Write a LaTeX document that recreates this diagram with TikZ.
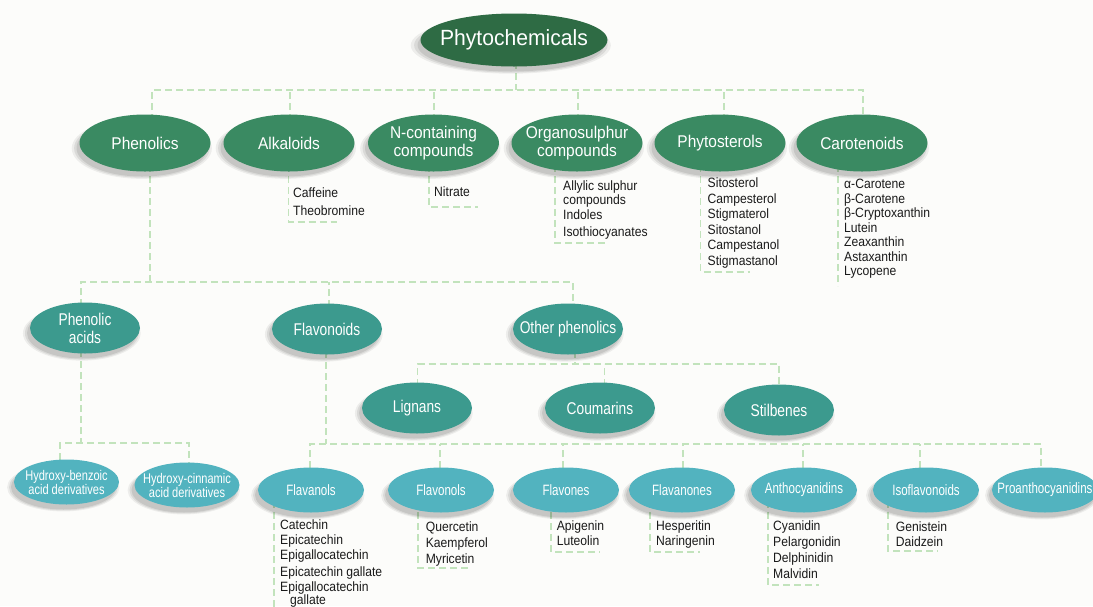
\documentclass[tikz,border=0pt]{standalone}
\usepackage{fontspec}
\setmainfont{Liberation Sans}
\newfontfamily\fontRoot[FakeStretch=0.96]{Liberation Sans}
\newfontfamily\fontLvA[FakeStretch=0.91]{Liberation Sans}
\newfontfamily\fontLvB[FakeStretch=0.81]{Liberation Sans}
\newfontfamily\fontLvC[FakeStretch=0.77]{Liberation Sans}
\newfontfamily\fontLvH[FakeStretch=0.79]{Liberation Sans}
\newfontfamily\fontLeaf[FakeStretch=0.9]{Liberation Sans}
\usetikzlibrary{shapes.geometric,shadows,calc}
\pgfdeclarelayer{back}
\pgfdeclarelayer{lines}
\pgfsetlayers{back,lines,main}
\definecolor{bgc}{HTML}{FCFCFA}
\definecolor{c0}{HTML}{2E6B44}
\definecolor{c1}{HTML}{3A8A62}
\definecolor{c2}{HTML}{3C9A8E}
\definecolor{c3}{HTML}{52B3BF}
\definecolor{lc}{HTML}{C2E3BC}
\definecolor{tx}{HTML}{1A1A1A}
\tikzset{
 ell/.style={ellipse, inner xsep=-80pt, inner ysep=0pt, text=white, align=center,
   general shadow={shadow scale=1.07, shadow xshift=-3pt, shadow yshift=-5pt, fill=black, opacity=0.06},
   general shadow={shadow scale=1.035, shadow xshift=-3pt, shadow yshift=-5pt, fill=black, opacity=0.08},
   general shadow={shadow scale=1.0, shadow xshift=-3pt, shadow yshift=-5pt, fill=black, opacity=0.09}},
 root/.style={ell, fill=c0, minimum width=187pt, minimum height=53pt, font=\fontRoot\fontsize{22}{24}\selectfont},
 lvA/.style={ell, fill=c1, minimum width=131pt, minimum height=57pt, font=\fontLvA\fontsize{17}{18}\selectfont},
 lvB/.style={ell, fill=c2, minimum width=110pt, minimum height=51pt, font=\fontLvB\fontsize{17}{18}\selectfont},
 lvC/.style={ell, fill=c3, minimum width=106pt, minimum height=45pt, font=\fontLvC\fontsize{15}{16}\selectfont},
 lvH/.style={ell, fill=c3, minimum width=105pt, minimum height=45pt, font=\fontLvH\fontsize{14}{14}\selectfont},
 conn/.style={draw=lc, line width=1.1pt, dash pattern=on 7pt off 4pt},
 leaf/.style={anchor=base west, inner sep=0pt, text=tx, font=\fontLeaf\fontsize{13.5}{15.5}\selectfont},
}
\newcommand{\lst}[1]{\begin{tabular}[t]{@{}l@{}}#1\end{tabular}}
\begin{document}
\begin{tikzpicture}[x=1pt,y=-1pt]
\begin{pgfonlayer}{back}
\fill[bgc] (0,0) rectangle (1093,606);
\end{pgfonlayer}
\useasboundingbox (0,0) rectangle (1093,606);

% ---- nodes
\node[root] (phyto) at (514,40) {Phytochemicals};

\node[lvA] (phen)   at (145,143) {Phenolics};
\node[lvA] (alk)    at (289,143) {Alkaloids};
\node[lvA] (ncont)  at (433.5,143) {N-containing\\compounds};
\node[lvA] (org)    at (577,143) {Organosulphur\\compounds};
\node[lvA] (sterol) at (720,143) {Phytosterols};
\node[lvA] (caro)   at (862,143) {Carotenoids};

\node[lvB] (phacid) at (85,328) {Phenolic\\acids};
\node[lvB] (flav)   at (327,329) {Flavonoids};
\node[lvB] (other)  at (568,329) {Other phenolics};

\node[lvB] (lign) at (417,408) {Lignans};
\node[lvB] (coum) at (600,408) {Coumarins};
\node[lvB] (stil) at (779,410) {Stilbenes};

\node[lvH] (hb) at (66.5,482) {Hydroxy-benzoic\\acid derivatives};
\node[lvH] (hc) at (187,485) {Hydroxy-cinnamic\\acid derivatives};

\node[lvC] (fl1) at (311,490) {Flavanols};
\node[lvC] (fl2) at (441,490) {Flavonols};
\node[lvC] (fl3) at (566,490) {Flavones};
\node[lvC] (fl4) at (682,490) {Flavanones};
\node[lvC] (fl5) at (804,490) {Anthocyanidins};
\node[lvC] (fl6) at (926,490) {Isoflavonoids};
\node[lvC] (fl7) at (1045,490) {Proanthocyanidins};

% ---- leaf lists
\node[leaf] (lalk) at (293,197.5) {\lst{Caffeine\\[2.5pt]Theobromine}};
\node[leaf] (lnc)  at (434,196.5) {\lst{Nitrate}};
\node[leaf] (lorg) at (563,190.5) {\lst{Allylic sulphur\\[-1.5pt]compounds\\[-0.5pt]Indoles\\[1.5pt]Isothiocyanates}};
\node[leaf] (lst)  at (707.5,187.5) {\lst{Sitosterol\\Campesterol\\Stigmaterol\\Sitostanol\\Campestanol\\Stigmastanol}};
\node[leaf] (lcar) at (844,188.5) {\lst{α-Carotene\\[-1pt]β-Carotene\\[-1pt]β-Cryptoxanthin\\[-1pt]Lutein\\[-1pt]Zeaxanthin\\[-1pt]Astaxanthin\\[-1pt]Lycopene}};

\node[leaf] (lf1) at (280,529.5) {\lst{Catechin\\[-0.5pt]Epicatechin\\[-0.5pt]Epigallocatechin\\[1pt]Epicatechin gallate\\[-0.5pt]Epigallocatechin\\[-2.5pt]\hspace{10pt}gallate}};
\node[leaf] (lf2) at (425.6,531.5) {\lst{Quercetin\\[0.5pt]Kaempferol\\[0.5pt]Myricetin}};
\node[leaf] (lf3) at (556.6,530.5) {\lst{Apigenin\\[-0.5pt]Luteolin}};
\node[leaf] (lf4) at (656,530.5) {\lst{Hesperitin\\[-0.5pt]Naringenin}};
\node[leaf] (lf5) at (773,530.5) {\lst{Cyanidin\\[0.5pt]Pelargonidin\\[0.5pt]Delphinidin\\[0.5pt]Malvidin}};
\node[leaf] (lf6) at (895.6,531.5) {\lst{Genistein\\[-0.5pt]Daidzein}};

% ---- connectors
\coordinate (b1) at (0,90);
\coordinate (b2) at (0,282);
\coordinate (b3) at (0,443);
\coordinate (b4) at (0,364);
\coordinate (b5) at (0,444);
\begin{pgfonlayer}{lines}
% top level
\draw[conn] ([xshift=2]phyto.center) -- ([xshift=2]phyto.center |- b1);
\draw[conn] ([xshift=7]phen.center) |- ([xshift=1]caro.center |- b1) -- ([xshift=1]caro.center);
\draw[conn] ([xshift=1]alk.center) -- ([xshift=1]alk.center |- b1);
\draw[conn] ([xshift=0.5]ncont.center) -- ([xshift=0.5]ncont.center |- b1);
\draw[conn] ([xshift=1]org.center) -- ([xshift=1]org.center |- b1);
\draw[conn] ([xshift=4]sterol.center) -- ([xshift=4]sterol.center |- b1);
% leaf brackets top
\draw[conn] ([xshift=-0.5]alk.center) |- (337,222);
\draw[conn] ([xshift=-4.5]ncont.center) |- (478,207);
\draw[conn] ([xshift=-22]org.center) |- (605,243);
\draw[conn] ([xshift=-19.5]sterol.center) |- (750,272);
\draw[conn] ([xshift=-24]caro.center) -- (838,286);
% phenolics
\draw[conn] ([xshift=5]phen.center) -- ([xshift=5]phen.center |- b2);
\draw[conn] ([xshift=-4]phacid.center) |- ([xshift=5]other.center |- b2) -- ([xshift=5]other.center);
\draw[conn] ([xshift=2]flav.center) -- ([xshift=2]flav.center |- b2);
% phenolic acids
\draw[conn] ([xshift=-4]phacid.center) -- ([xshift=-4]phacid.center |- b3);
\draw[conn] ([xshift=-6.5]hb.center) |- ([xshift=2]hc.center |- b3) -- ([xshift=2]hc.center);
% other phenolics
\draw[conn] ([xshift=7]other.center) -- ([xshift=7]other.center |- b4);
\draw[conn] ([xshift=0.5]lign.center) |- (stil.center |- b4) -- (stil.center);
\draw[conn] ([xshift=4.5]coum.center) -- ([xshift=4.5]coum.center |- b4);
% flavonoids
\draw[conn] ([xshift=-1]flav.center) -- ([xshift=-1]flav.center |- b5);
\draw[conn] ([xshift=-1]fl1.center) |- ([xshift=-4]fl7.center |- b5) -- ([xshift=-4]fl7.center);
\draw[conn] ([xshift=-1]fl2.center) -- ([xshift=-1]fl2.center |- b5);
\draw[conn] ([xshift=-3]fl3.center) -- ([xshift=-3]fl3.center |- b5);
\draw[conn] ([xshift=1]fl4.center) -- ([xshift=1]fl4.center |- b5);
\draw[conn] ([xshift=-1]fl5.center) -- ([xshift=-1]fl5.center |- b5);
\draw[conn] ([xshift=-6]fl6.center) -- ([xshift=-6]fl6.center |- b5);
% leaf brackets bottom
\draw[conn] ([xshift=-37]fl1.center) -- (274,612);
\draw[conn] ([xshift=-23]fl2.center) |- (468,568);
\draw[conn] ([xshift=-15]fl3.center) |- (600,552);
\draw[conn] ([xshift=-32]fl4.center) |- (699.5,552);
\draw[conn] ([xshift=-36]fl5.center) |- (818.6,585);
\draw[conn] ([xshift=-38]fl6.center) |- (937.5,551);
\end{pgfonlayer}
\end{tikzpicture}
\end{document}
